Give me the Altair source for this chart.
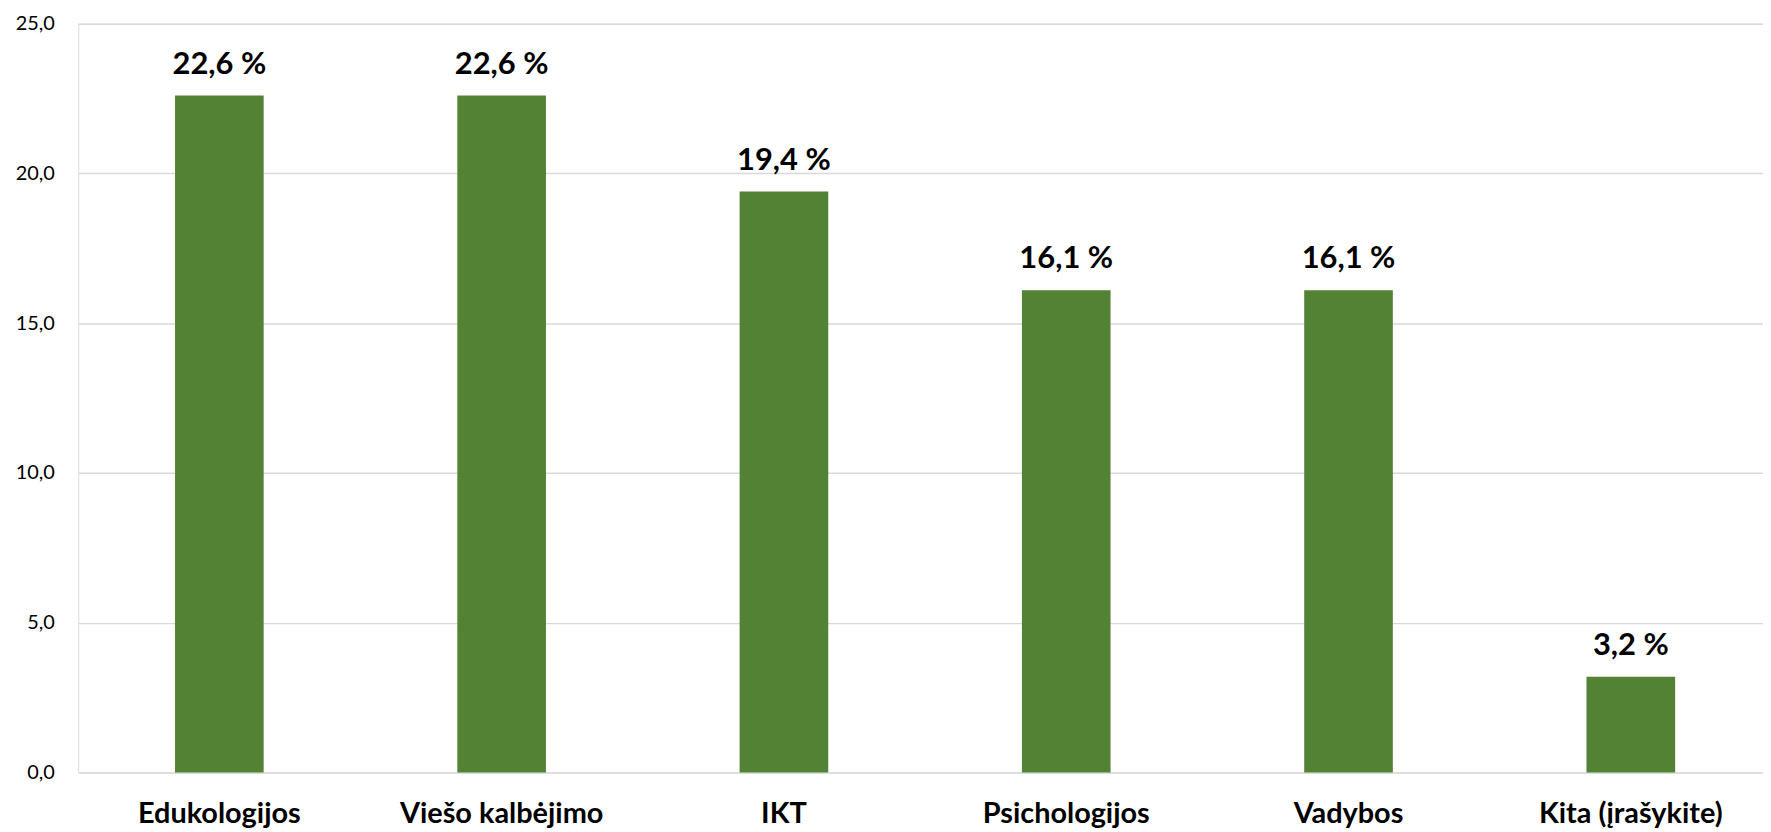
import altair as alt
import pandas as pd

categories = ["Edukologijos", "Viešo kalbėjimo", "IKT", "Psichologijos", "Vadybos", "Kita (įrašykite)"]
values = [22.6, 22.6, 19.4, 16.1, 16.1, 3.2]

df = pd.DataFrame({"category": categories, "value": values})

FONT = "Lato"

base = alt.Chart(df).encode(
    x=alt.X("category:N", sort=categories, title=None,
            scale=alt.Scale(paddingInner=0.686, paddingOuter=0.343),
            axis=alt.Axis(labelAngle=0, labelFont=FONT, labelFontSize=29, labelFontWeight="bold",
                          labelColor="#000000", labelPadding=50, labelBaseline="alphabetic",
                          labelLimit=600, ticks=False, domain=False, grid=False)),
)

bars = base.mark_bar(color="#548235").encode(
    y=alt.Y("value:Q", title=None,
            scale=alt.Scale(domain=[0, 25], nice=False),
            axis=alt.Axis(values=[0, 5, 10, 15, 20, 25],
                          labelExpr="replace(format(datum.value, '.1f'), '.', ',')",
                          labelFont=FONT, labelFontSize=20, labelColor="#000000", labelPadding=24,
                          ticks=False, domain=False, grid=True, gridColor="#d9d9d9", gridWidth=1.5)),
)

labels = base.transform_calculate(
    lab="replace(format(datum.value, '.1f'), '.', ',') + ' %'"
).mark_text(font=FONT, fontSize=31, fontWeight="bold", color="#000000", dy=-31, baseline="middle").encode(
    y=alt.Y("value:Q"),
    text="lab:N",
)

chart = (bars + labels).properties(
    width=1701, height=752,
    autosize=alt.AutoSizeParams(type="none"),
    padding={"left": 70.5, "top": 14, "right": -9, "bottom": 57},
).configure_view(stroke=None).configure(background="white")

chart.save("out.html", embed_options={"renderer": "svg", "actions": False})
